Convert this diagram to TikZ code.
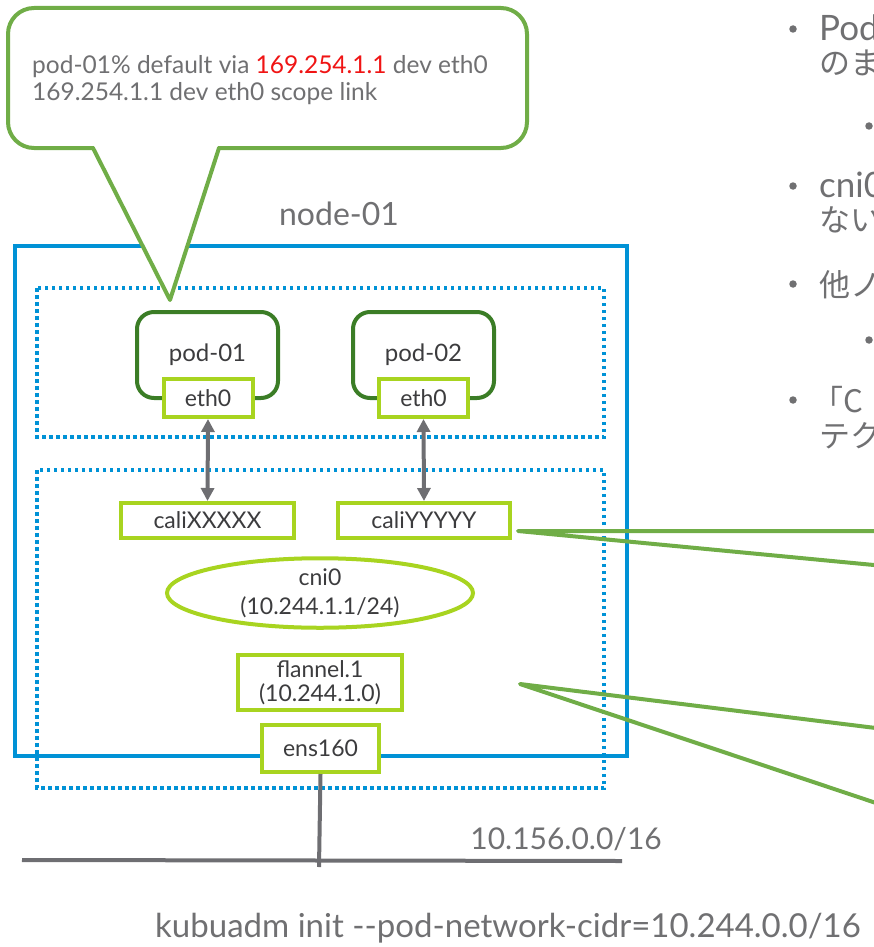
\documentclass[tikz,border=0pt]{standalone}
\usepackage{fontspec}
\setmainfont{Lato}
\newfontfamily\jpfont{Noto Sans CJK JP}
\usetikzlibrary{arrows.meta,shapes.geometric}

\definecolor{calloutgreen}{RGB}{112,173,71}
\definecolor{podgreen}{RGB}{59,125,38}
\definecolor{ifgreen}{RGB}{168,212,32}
\definecolor{nodeblue}{RGB}{0,146,214}
\definecolor{softgray}{RGB}{112,112,114}
\definecolor{darkgray}{RGB}{60,60,62}
\definecolor{wiregray}{RGB}{110,110,114}
\definecolor{hotred}{RGB}{240,20,20}

\tikzset{
  greenline/.style={draw=calloutgreen, line width=4pt, line join=round, line cap=round},
  podbox/.style={draw=podgreen, line width=4pt, rounded corners=17pt, minimum width=141pt,
    minimum height=86pt, inner sep=0pt, text=darkgray, font=\fontsize{24}{26}\selectfont},
  ifbox/.style={draw=ifgreen, line width=4pt, fill=white, inner sep=0pt, text=darkgray,
    font=\fontsize{23}{24}\selectfont, align=center},
  hostbox/.style={draw=nodeblue, line width=4pt},
  nsbox/.style={draw=nodeblue, line width=3.5pt, dash pattern=on 3.5pt off 3.5pt},
  vethlink/.style={draw=wiregray, line width=4pt,
    {Triangle[width=13pt,length=13pt]}-{Triangle[width=13pt,length=13pt]}},
  wire/.style={draw=wiregray, line width=4pt},
  plain/.style={inner sep=0pt, text=softgray},
  jptext/.style={anchor=base west, inner sep=0pt, text=softgray,
    font=\jpfont\fontsize{31}{34}\selectfont},
  lattext/.style={anchor=base west, inner sep=0pt, text=softgray,
    font=\fontsize{35}{38}\selectfont},
  dot/.style={circle, fill=softgray, inner sep=0pt, minimum size=7.5pt}
}

\begin{document}
\begin{tikzpicture}[x=1pt,y=-1pt]
\useasboundingbox (0,0) rectangle (874,947);
\clip (0,0) rectangle (874,947);

% host and its two network areas
\draw[hostbox] (15,246) rectangle (627,756);
\draw[nsbox] (37,288) rectangle (604,437);
\draw[nsbox] (37,470) rectangle (604,788);

\node[plain, anchor=base, font=\fontsize{32}{34}\selectfont] (hostname) at (339,225) {node-01};

% pods
\node[podbox] (pod1) at (207.5,355) {pod-01};
\node[podbox] (pod2) at (423.5,355) {pod-02};
\node[ifbox, minimum width=89pt, minimum height=38pt] (eth1) at (208,398) {eth0};
\node[ifbox, minimum width=89pt, minimum height=38pt] (eth2) at (423.5,398) {eth0};

% host-side interfaces
\node[ifbox, minimum width=173pt, minimum height=35pt] (calix) at (207.5,520.5) {caliXXXXX};
\node[ifbox, minimum width=172pt, minimum height=35pt] (caliy) at (424,520.5) {caliYYYYY};
\node[ellipse, draw=ifgreen, line width=4pt, minimum width=306pt, minimum height=60pt,
  inner sep=0pt, text=darkgray, align=center, font=\fontsize{23}{29}\selectfont]
  (cni) at (320,593) {cni0\\(10.244.1.1/24)};
\node[ifbox, minimum width=164pt, minimum height=55pt] (flannel) at (320,682.5)
  {flannel.1\\(10.244.1.0)};
\node[ifbox, minimum width=117pt, minimum height=47pt] (ens) at (320.5,748.5) {ens160};

\draw[vethlink] (eth1.south) -- (calix.north);
\draw[vethlink] (eth2.south) -- (caliy.north);

% physical network
\coordinate (netl) at (22,860);
\coordinate (netr) at (622,861);
\coordinate (drop) at (319,867);
\draw[wire] (netl) -- (netr);
\draw[wire] (ens.south) -- (drop);
\node[plain, anchor=base east, font=\fontsize{30}{32}\selectfont]
  (netlabel) at (662,849) {10.156.0.0/16};

\node[plain, anchor=base west, font=\fontsize{33}{36}\selectfont]
  (cmd) at (155,937) {kubuadm init -{}-pod-network-cidr=10.244.0.0/16};

% route callout for pod-01
\node[draw=calloutgreen, line width=4pt, rounded corners=26pt, fill=white,
  minimum width=519pt, minimum height=140pt] (callout) at (267.5,78) {};
\node[plain, anchor=base west, font=\fontsize{24.5}{27}\selectfont] (route1) at (32,74)
  {pod-01\% default via \textcolor{hotred}{169.254.1.1} dev eth0};
\node[plain, anchor=base west, font=\fontsize{24.5}{27}\selectfont] (route2) at (32,101)
  {169.254.1.1 dev eth0 scope link};
\coordinate (tailL) at (93,148);
\coordinate (tailR) at (219,148);
\coordinate (tailtip) at (170,300);
\fill[white] (93,145) -- (tailtip) -- (219,145) -- cycle;
\draw[greenline] (tailL) -- (tailtip) -- (tailR);

% callout tails from the right-hand notes
\coordinate (tipA) at (518,531);
\coordinate (tipB) at (520,684);
\draw[greenline] (900,531) -- (tipA) -- (900,567.5);
\draw[greenline] (900,731) -- (tipB) -- (900,811);

% notes column
\node[dot] (b1) at (793,29) {};
\node[lattext] (t1) at (819,41) {Pod};
\node[jptext] (t1b) at (819,75) {のま};
\node[dot] (b1s) at (869,126) {};
\node[dot] (b2) at (793,186) {};
\node[lattext] (t2) at (819,197) {cni0};
\node[jptext] (t2b) at (819,231) {ない};
\node[dot] (b3) at (793,284) {};
\node[jptext] (t3) at (819,296) {他ノ};
\node[dot] (b3s) at (869,340) {};
\node[dot] (b4) at (793,400) {};
\node[jptext] (t4) at (812,412) {「C};
\node[jptext] (t4b) at (819,447) {テク};
\end{tikzpicture}
\end{document}
